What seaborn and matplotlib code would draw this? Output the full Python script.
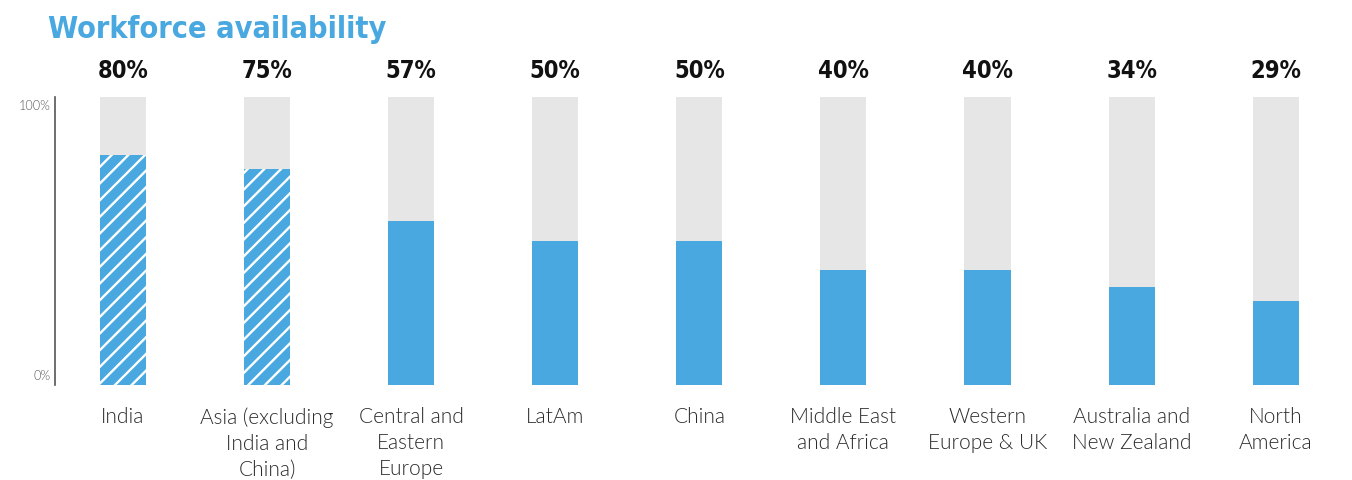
import matplotlib
matplotlib.use("Agg")
import matplotlib.pyplot as plt
import seaborn as sns
import pandas as pd

# Share of respondents reporting workforce availability, by region
regions = [
    "India",
    "Asia (excluding\nIndia and\nChina)",
    "Central and\nEastern\nEurope",
    "LatAm",
    "China",
    "Middle East\nand Africa",
    "Western\nEurope & UK",
    "Australia and\nNew Zealand",
    "North\nAmerica",
]
availability = [80, 75, 57, 50, 50, 40, 40, 34, 29]
hatched = [True, True, False, False, False, False, False, False, False]
full_scale = [100] * len(regions)

BLUE = "#48A8DF"
GREY = "#E6E6E6"

sns.set_theme(style="white")
plt.rcParams["font.family"] = ["Lato", "DejaVu Sans"]
plt.rcParams["hatch.color"] = "white"
plt.rcParams["hatch.linewidth"] = 1.7

df = pd.DataFrame({"region": regions, "value": availability, "full": full_scale})

fig = plt.figure(figsize=(13.52, 4.8), dpi=100)
W, H = 1352, 480
ax = fig.add_axes([55 / W, (H - 385) / H, (W - 55) / W, (385 - 97) / H])

sns.barplot(data=df, x="region", y="full", color=GREY, width=0.32,
            saturation=1, ax=ax)
sns.barplot(data=df, x="region", y="value", color=BLUE, width=0.32,
            saturation=1, ax=ax)

# Value bars are the second set of patches; stripe the flagged ones
for bar in ax.patches[:len(regions)]:
    bar.set_linewidth(0)
value_bars = ax.patches[len(regions):]
for bar, h in zip(value_bars, hatched):
    bar.set_linewidth(0)
    if h:
        bar.set_edgecolor("white")
        bar.set_hatch("//")

ax.set_xlim(-0.472, 8.53)
ax.set_ylim(0, 100)
ax.set_xlabel("")
ax.set_ylabel("")

for s in ["top", "right", "bottom"]:
    ax.spines[s].set_visible(False)
ax.spines["left"].set_color("#555555")
ax.spines["left"].set_linewidth(1.2)

ax.set_yticks([0, 100])
ax.set_yticklabels([])
ax.tick_params(axis="y", length=0)
ax.text(-0.5, 99, "100%", ha="right", va="top", fontsize=9,
        color="#555555", fontweight=300)
ax.text(-0.5, 1, "0%", ha="right", va="bottom", fontsize=9,
        color="#555555", fontweight=300)

ax.tick_params(axis="x", length=0, pad=16)
ax.set_xticks(range(len(regions)))
ax.set_xticklabels(regions, fontsize=15, color="#2a2a2a",
                   fontweight=300, linespacing=1.38, va="top")

cond = ["DejaVu Sans", "Roboto"]
# Percentage labels above each column
for i, v in enumerate(availability):
    ax.text(i, 109, f"{v}%", ha="center", va="center", fontsize=17,
            fontweight="bold", color="#111111", family=cond,
            fontstretch="condensed", clip_on=False)

fig.text(48 / W, 1 - 29 / H, "Workforce availability", ha="left",
         va="center", fontsize=22, fontweight="bold", color=BLUE,
         family=cond, fontstretch="condensed")

fig.savefig("out.png", dpi=100)
